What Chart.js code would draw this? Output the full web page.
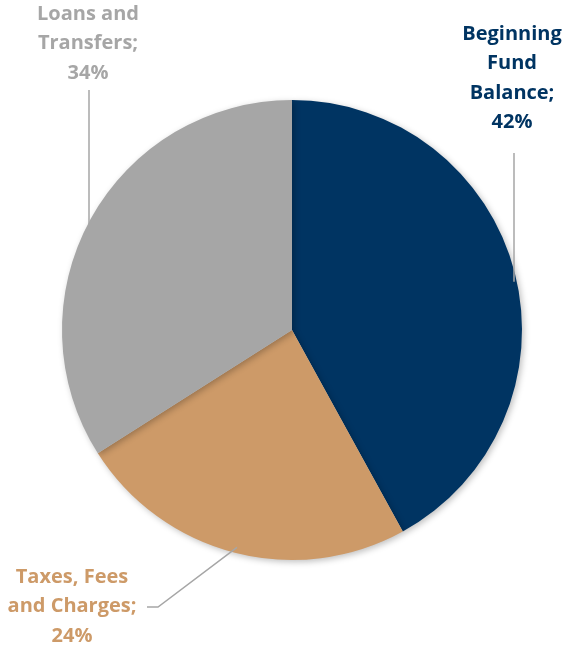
<!DOCTYPE html>
<html lang="en">
<head>
    <meta charset="UTF-8">
    <script src="https://cdn.jsdelivr.net/npm/chart.js"></script>
    <title>Sources of Funds</title>
    <style>
        body { margin: 0; background: #fff; }
        #wrap { width: 566px; height: 648px; }
    </style>
</head>
<body>
    <div id="wrap"><canvas id="chart" width="566" height="648"></canvas></div>
    <script>
        const categories = ['Beginning Fund Balance', 'Taxes, Fees and Charges', 'Loans and Transfers'];
        const shares = [42, 24, 34];
        const labelLines = [
            ['Beginning', 'Fund', 'Balance;', '42%'],
            ['Taxes, Fees', 'and Charges;', '24%'],
            ['Loans and', 'Transfers;', '34%']
        ];
        const colors = ['#003462', '#CD9A68', '#A6A6A6'];

        // where each label sits, and how its leader line runs
        const labelLayout = [
            { x: 512, y: 34, line: { kind: 'down', x: 514, y0: 153 } },
            { x: 72, y: 577, line: { kind: 'elbow', x0: 147, y0: 607, x1: 158, edgeX: 237 } },
            { x: 88, y: 14, line: { kind: 'down', x: 89, y0: 90 } }
        ];

        const labelPlugin = {
            id: 'pieLabels',
            afterDraw(chart) {
                const ctx = chart.ctx;
                const arc = chart.getDatasetMeta(0).data[0];
                const cx = arc.x, cy = arc.y, r = arc.outerRadius;
                ctx.save();
                ctx.font = 'bold 20px "Open Sans"';
                ctx.textAlign = 'center';
                ctx.textBaseline = 'middle';
                labelLines.forEach((lines, i) => {
                    const pos = labelLayout[i];
                    ctx.fillStyle = colors[i];
                    lines.forEach((t, k) => ctx.fillText(t, pos.x, pos.y + k * 29.5));

                    ctx.strokeStyle = '#A6A6A6';
                    ctx.lineWidth = 1.5;
                    ctx.beginPath();
                    const ln = pos.line;
                    if (ln.kind === 'down') {
                        const dx = ln.x - cx;
                        const yEdge = cy - Math.sqrt(r * r - dx * dx);
                        ctx.moveTo(ln.x, ln.y0);
                        ctx.lineTo(ln.x, yEdge + 12);
                    } else {
                        const dx = ln.edgeX - cx;
                        const yEdge = cy + Math.sqrt(r * r - dx * dx);
                        ctx.moveTo(ln.x0, ln.y0);
                        ctx.lineTo(ln.x1, ln.y0);
                        ctx.lineTo(ln.edgeX, yEdge - 6);
                    }
                    ctx.stroke();
                });
                ctx.restore();
            }
        };

        const shadowPlugin = {
            id: 'pieShadow',
            beforeDatasetsDraw(chart) {
                chart.ctx.save();
                chart.ctx.shadowColor = 'rgba(0,0,0,0.25)';
                chart.ctx.shadowBlur = 6;
                chart.ctx.shadowOffsetX = 2;
                chart.ctx.shadowOffsetY = 2;
            },
            afterDatasetsDraw(chart) {
                chart.ctx.restore();
            }
        };

        new Chart(document.getElementById('chart'), {
            type: 'pie',
            data: {
                labels: categories,
                datasets: [{
                    data: shares,
                    backgroundColor: colors,
                    borderWidth: 0
                }]
            },
            options: {
                responsive: false,
                animation: false,
                layout: { padding: { left: 62, right: 44, top: 100, bottom: 88 } },
                plugins: {
                    legend: { display: false },
                    tooltip: { enabled: false }
                }
            },
            plugins: [shadowPlugin, labelPlugin]
        });
    </script>
</body>
</html>
